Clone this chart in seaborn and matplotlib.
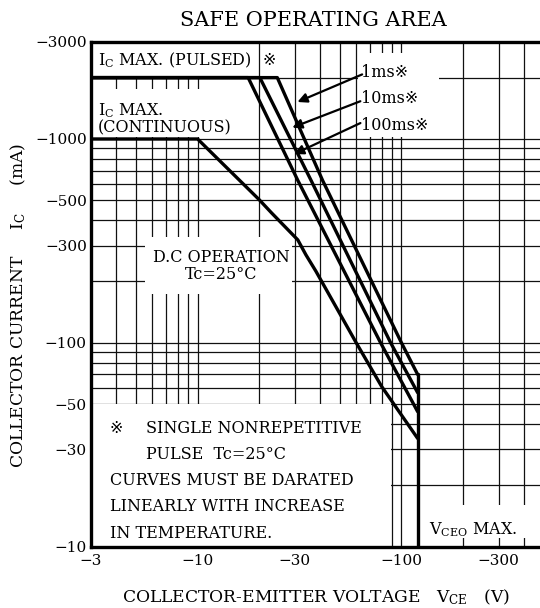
import numpy as np
import pandas as pd
import matplotlib.pyplot as plt
import seaborn as sns
from matplotlib.patches import Rectangle
from matplotlib.ticker import FixedLocator, NullFormatter

# SOA boundaries (|VCE| in V, |IC| in mA)
dc_v = [3, 10, 20, 23, 31, 34, 38, 60, 80, 120]
dc_i = [1000, 1000, 505, 435, 320, 270, 225, 100, 61, 34]
ms1_v = [3, 24.6, 41, 100, 120]
ms1_i = [2000, 2000, 627, 100, 70]
ms10_v = [3, 20.2, 36, 88.5, 120]
ms10_i = [2000, 2000, 627, 100, 57]
ms100_v = [3, 17.7, 31, 79, 120]
ms100_i = [2000, 2000, 627, 100, 46]
vceo_v = [120, 120]
vceo_i = [10, 70]

x_ticks = [3, 10, 30, 100, 300]
y_ticks = [10, 30, 50, 100, 300, 500, 1000, 3000]

frames = []
for name, v, i in [("dc", dc_v, dc_i), ("1ms", ms1_v, ms1_i),
                   ("10ms", ms10_v, ms10_i), ("100ms", ms100_v, ms100_i),
                   ("vceo", vceo_v, vceo_i)]:
    frames.append(pd.DataFrame({"V": v, "I": i, "curve": name, "order": range(len(v))}))
soa = pd.concat(frames, ignore_index=True)

sns.set_style("white")
plt.rcParams['font.family'] = ['DejaVu Serif', 'DejaVu Sans', 'Noto Sans CJK JP']
plt.rcParams['mathtext.fontset'] = 'dejavuserif'
plt.rcParams['text.color'] = 'black'
plt.rcParams['xtick.color'] = 'black'
plt.rcParams['ytick.color'] = 'black'

fig = plt.figure(figsize=(5.4, 6.08), dpi=100)
ax = fig.add_axes([0.1685, 0.1008, 0.8389, 0.8306])
ax.set_xscale('log')
ax.set_yscale('log')
ax.set_xlim(3, 500)
ax.set_ylim(10, 3000)

# grid
xminor = [k * d for d in (1, 10, 100) for k in range(1, 10) if 3 < k * d < 500]
yminor = [k * d for d in (10, 100, 1000) for k in range(1, 10) if 10 < k * d < 3000]
ax.xaxis.set_major_locator(FixedLocator(x_ticks))
ax.yaxis.set_major_locator(FixedLocator(y_ticks))
ax.xaxis.set_minor_locator(FixedLocator(xminor))
ax.yaxis.set_minor_locator(FixedLocator(yminor))
ax.xaxis.set_minor_formatter(NullFormatter())
ax.yaxis.set_minor_formatter(NullFormatter())
ax.set_xticklabels(['\u2212' + str(t) for t in x_ticks])
ax.set_yticklabels(['\u2212' + str(t) for t in y_ticks])
ax.grid(True, which='both', color='#111111', lw=0.9)
ax.set_axisbelow(True)
ax.tick_params(which='both', length=0, labelcolor='black')
ax.tick_params(axis='x', pad=5, labelsize=11)
ax.tick_params(axis='y', pad=3, labelsize=11)

# white label boxes that blank out the grid
for (x0, x1, y0, y1) in [(3, 19.5, 2030, 3000), (3, 19.5, 1020, 1750),
                         (61, 152, 1020, 2650), (5.5, 29, 173, 330),
                         (3, 89, 10, 50), (125, 500, 11, 16)]:
    ax.add_patch(Rectangle((x0, y0), x1 - x0, y1 - y0, facecolor='white',
                           edgecolor='none', zorder=1))

sns.lineplot(data=soa, x="V", y="I", units="curve", estimator=None, sort=False,
             color='black', lw=2.4, ax=ax, zorder=3)

for s in ax.spines.values():
    s.set_linewidth(2.4)
    s.set_color('black')

fs = 11.5
tk = dict(transform=ax.transAxes, fontsize=fs, va='center', ha='left', zorder=4)
ax.text(0.0155, 0.9637, r'$\mathregular{I_C}$ MAX. (PULSED)', **tk)
ax.text(0.378, 0.9637, '\u203b', **tk)
ax.text(0.0155, 0.863, r'$\mathregular{I_C}$ MAX.', **tk)
ax.text(0.0155, 0.829, '(CONTINUOUS)', **tk)
ax.text(0.597, 0.940, '1ms\u203b', **tk)
ax.text(0.597, 0.888, '10ms\u203b', **tk)
ax.text(0.597, 0.834, '100ms\u203b', **tk)
ax.text(0.287, 0.573, 'D.C OPERATION', transform=ax.transAxes, fontsize=fs,
        ha='center', va='center', zorder=4)
ax.text(0.287, 0.540, 'Tc=25\u00b0C', transform=ax.transAxes, fontsize=fs,
        ha='center', va='center', zorder=4)
ax.text(0.041, 0.235, '\u203b', **tk)
ax.text(0.121, 0.235, 'SINGLE NONREPETITIVE', **tk)
ax.text(0.121, 0.1835, 'PULSE  Tc=25\u00b0C', **tk)
ax.text(0.041, 0.132, 'CURVES MUST BE DARATED', **tk)
ax.text(0.041, 0.079, 'LINEARLY WITH INCREASE', **tk)
ax.text(0.041, 0.027, 'IN TEMPERATURE.', **tk)
ax.text(0.746, 0.033, r'$\mathregular{V_{CEO}}$ MAX.', **tk)

# arrows from the pulse-width labels to their curves
for (tx, ty), (hx, hy) in [((66, 2099), (30.0, 1500)),
                           ((64.7, 1549), (28.3, 1125)),
                           ((64.7, 1213), (28.9, 832))]:
    ax.annotate('', xy=(hx, hy), xytext=(tx, ty),
                arrowprops=dict(arrowstyle='-|>', color='black', lw=1.6,
                                mutation_scale=14), zorder=4)

ax.set_xlabel('')
ax.set_ylabel('')
fig.text(0.581, 0.966, 'SAFE OPERATING AREA', ha='center', va='center', fontsize=15)
fig.text(0.585, 0.018, r'COLLECTOR-EMITTER VOLTAGE   $\mathregular{V_{CE}}$   (V)',
         ha='center', va='center', fontsize=12.3)
fig.text(0.033, 0.497, r'COLLECTOR CURRENT     $\mathregular{I_C}$     (mA)',
         ha='center', va='center', fontsize=12.3, rotation=90)

fig.savefig('out.png', dpi=100)
